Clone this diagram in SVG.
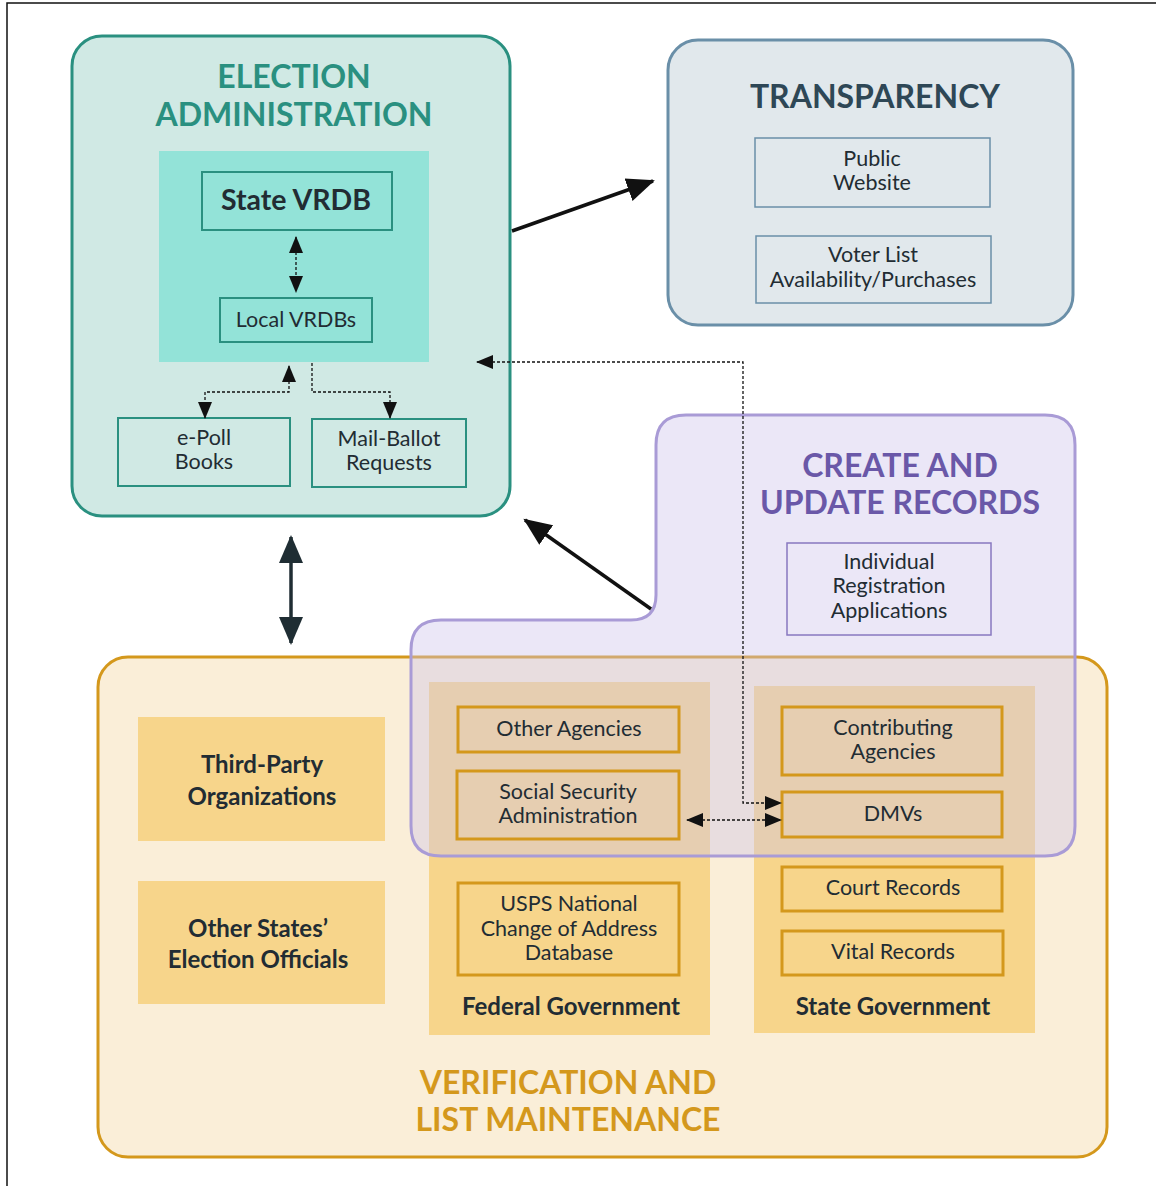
<svg xmlns="http://www.w3.org/2000/svg" width="1156" height="1186" viewBox="0 0 1156 1186">
<style>
text{font-family:Lato,"Open Sans","Liberation Sans",sans-serif;text-anchor:middle;fill:#222c33}
.title{font-weight:bold;font-size:32px}
.t-ea{fill:#2a9080}
.t-tr{fill:#2e4756}
.t-cr{fill:#6a58a8}
.t-vl{fill:#d4981c}
.lbl{font-size:21.5px}
.bold{font-weight:bold;font-size:24px}
.ea-box{fill:none;stroke:#2a9080;stroke-width:2}
.tr-box{fill:none;stroke:#6a8fa8;stroke-width:1.5}
.or-box{fill:none;stroke:#d4981c;stroke-width:3}
.panel{fill:#f7d58b}
.solid{stroke:#111;stroke-width:3.5;fill:none}
.dot{stroke:#111;stroke-width:1.3;stroke-dasharray:3 2;fill:none}
</style>
<defs>
<marker id="big" markerUnits="userSpaceOnUse" markerWidth="30" markerHeight="30" viewBox="0 0 30 30" refX="26" refY="15" orient="auto-start-reverse"><path d="M0,3 L28,15 L0,27 Z" fill="#111"/></marker>
<marker id="bigd" markerUnits="userSpaceOnUse" markerWidth="30" markerHeight="30" viewBox="0 0 30 30" refX="26" refY="15" orient="auto-start-reverse"><path d="M0,3 L28,15 L0,27 Z" fill="#1f2d33"/></marker>
<marker id="sm" markerUnits="userSpaceOnUse" markerWidth="18" markerHeight="18" viewBox="0 0 18 18" refX="16" refY="9" orient="auto-start-reverse"><path d="M0,2 L17,9 L0,16 Z" fill="#111"/></marker>
</defs>
<rect width="1156" height="1186" fill="#fff"/>
<path d="M7,1186 V3 H1156" fill="none" stroke="#111" stroke-width="1.5"/>

<g id="election-administration">
<rect x="72" y="36" width="438" height="480" rx="30" fill="#d0e9e4" stroke="#2a9080" stroke-width="3"/>
<text class="title t-ea" x="294" y="88">ELECTION</text>
<text class="title t-ea" x="294" y="126">ADMINISTRATION</text>
<rect x="159" y="151" width="270" height="211" fill="#93e3d8"/>
</g>
<g id="state-vrdb"><rect class="ea-box" x="202" y="172" width="190" height="58"/><text x="296" y="210" style="font-weight:bold;font-size:28.5px">State VRDB</text></g>
<g id="local-vrdbs"><rect class="ea-box" x="220" y="298" width="152" height="44"/><text class="lbl" x="296" y="327">Local VRDBs</text></g>
<g id="epoll-books"><rect class="ea-box" x="118" y="418" width="172" height="68"/><text class="lbl" x="204" y="445">e-Poll</text><text class="lbl" x="204" y="469">Books</text></g>
<g id="mail-ballot"><rect class="ea-box" x="312" y="419" width="154" height="68"/><text class="lbl" x="389" y="446">Mail-Ballot</text><text class="lbl" x="389" y="470">Requests</text></g>

<g id="transparency">
<rect x="668" y="40" width="405" height="285" rx="30" fill="#e1e8ec" stroke="#6a8fa8" stroke-width="3"/>
<text class="title t-tr" x="875" y="108">TRANSPARENCY</text>
</g>
<g id="public-website"><rect class="tr-box" x="755" y="138" width="235" height="69"/><text class="lbl" x="872" y="166">Public</text><text class="lbl" x="872" y="190">Website</text></g>
<g id="voter-list"><rect class="tr-box" x="756" y="236" width="235" height="67"/><text class="lbl" x="873" y="262">Voter List</text><text class="lbl" x="873" y="287">Availability/Purchases</text></g>

<g id="verification">
<rect x="98" y="657" width="1009" height="500" rx="30" fill="#faeed8" stroke="#d4981c" stroke-width="3"/>
<text class="title t-vl" x="568" y="1094">VERIFICATION AND</text>
<text class="title t-vl" x="568" y="1131">LIST MAINTENANCE</text>
</g>
<g id="third-party"><rect class="panel" x="138" y="717" width="247" height="124"/><text class="bold" x="262" y="773">Third-Party</text><text class="bold" x="262" y="805">Organizations</text></g>
<g id="other-states"><rect class="panel" x="138" y="881" width="247" height="123"/><text class="bold" x="258" y="937">Other States’</text><text class="bold" x="258" y="968">Election Officials</text></g>
<g id="federal-government"><rect class="panel" x="429" y="682" width="281" height="353"/><text class="bold" x="571" y="1015">Federal Government</text></g>
<g id="state-government"><rect class="panel" x="754" y="686" width="281" height="347"/><text class="bold" x="893" y="1015">State Government</text></g>

<g id="create-update">
<path d="M686,415 H1045 Q1075,415 1075,445 V826 Q1075,856 1045,856 H441 Q411,856 411,826 V650 Q411,620 441,620 H631 Q656,620 656,595 V445 Q656,415 686,415 Z" fill="#cdc3eb" fill-opacity="0.4" stroke="#a99bd6" stroke-width="3"/>
<text class="title t-cr" x="900" y="477">CREATE AND</text>
<text class="title t-cr" x="900" y="514">UPDATE RECORDS</text>
</g>
<g id="individual-registration"><rect x="787" y="543" width="204" height="92" fill="none" stroke="#8878c0" stroke-width="1.5"/><text class="lbl" x="889" y="569">Individual</text><text class="lbl" x="889" y="593">Registration</text><text class="lbl" x="889" y="618">Applications</text></g>

<g id="other-agencies"><rect class="or-box" x="458" y="707" width="221" height="45"/><text class="lbl" x="569" y="736">Other Agencies</text></g>
<g id="ssa"><rect class="or-box" x="457" y="771" width="222" height="68"/><text class="lbl" x="568" y="799">Social Security</text><text class="lbl" x="568" y="823">Administration</text></g>
<g id="usps"><rect class="or-box" x="458" y="883" width="221" height="92"/><text class="lbl" x="569" y="911">USPS National</text><text class="lbl" x="569" y="936">Change of Address</text><text class="lbl" x="569" y="960">Database</text></g>
<g id="contributing-agencies"><rect class="or-box" x="782" y="707" width="220" height="68"/><text class="lbl" x="893" y="735">Contributing</text><text class="lbl" x="893" y="759">Agencies</text></g>
<g id="dmvs"><rect class="or-box" x="782" y="792" width="220" height="45"/><text class="lbl" x="893" y="821">DMVs</text></g>
<g id="court-records"><rect class="or-box" x="782" y="867" width="220" height="44"/><text class="lbl" x="893" y="895">Court Records</text></g>
<g id="vital-records"><rect class="or-box" x="782" y="931" width="221" height="44"/><text class="lbl" x="893" y="959">Vital Records</text></g>

<g id="connectors">
<line class="solid" x1="512" y1="231" x2="653" y2="181" marker-end="url(#big)"/>
<line class="solid" x1="651" y1="609" x2="525" y2="520" marker-end="url(#big)"/>
<line x1="291" y1="537" x2="291" y2="643" stroke="#1f2d33" stroke-width="3.5" marker-start="url(#bigd)" marker-end="url(#bigd)"/>
<line class="dot" x1="296" y1="237" x2="296" y2="292" marker-start="url(#sm)" marker-end="url(#sm)"/>
<path class="dot" d="M289,366 V392 H205 V418" marker-start="url(#sm)" marker-end="url(#sm)"/>
<path class="dot" d="M312,363 V392 H390 V418" marker-end="url(#sm)"/>
<path class="dot" d="M477,362 H743 V803 H781" marker-start="url(#sm)" marker-end="url(#sm)"/>
<line class="dot" x1="687" y1="820" x2="781" y2="820" marker-start="url(#sm)" marker-end="url(#sm)"/>
</g>
</svg>
